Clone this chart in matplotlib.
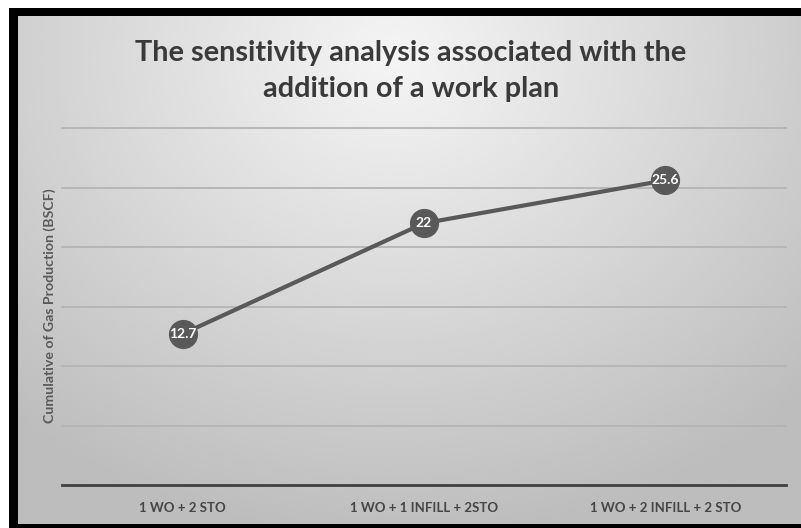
import numpy as np
import matplotlib.pyplot as plt
from matplotlib.patches import Rectangle

categories = ["1 WO + 2 STO", "1 WO + 1 INFILL + 2STO", "1 WO + 2 INFILL + 2 STO"]
production = [12.7, 22, 25.6]
grid_levels = [5, 10, 15, 20, 25, 30]

title = "The sensitivity analysis associated with the\naddition of a work plan"
ylabel = "Cumulative of Gas Production (BSCF)"

W, H = 801, 528
fig = plt.figure(figsize=(W / 100, H / 100), dpi=100)
fig.patch.set_facecolor("white")

# black frame (open on the right)
fig.patches.append(Rectangle((9 / W, 0), 1, (H - 8) / H, transform=fig.transFigure,
                             facecolor="black", edgecolor="none", zorder=0))

# gradient panel
bg = fig.add_axes([18 / W, 4 / H, (W - 18) / W, (H - 16 - 4) / H], zorder=1)
yy, xx = np.mgrid[0:1:300j, 0:1:500j]
r = np.sqrt(((xx - 0.48) * 1.3) ** 2 + ((yy - 0.08) * 1.0) ** 2)
shade = np.clip(0.96 - 0.23 * r, 0.74, 0.96)
bg.imshow(shade, cmap="gray", vmin=0, vmax=1, aspect="auto", interpolation="bicubic")
bg.set_axis_off()

ax = fig.add_axes([62 / W, (H - 485) / H, 724 / W, 357 / H], zorder=2)
ax.patch.set_alpha(0)
x = np.arange(len(categories))

for g in grid_levels:
    ax.axhline(g, color="#b4b4b4", lw=1.3, zorder=1, clip_on=False)

ax.plot(x, production, color="#595959", lw=3, zorder=3, solid_capstyle="round")
ax.plot(x, production, "o", color="#595959", ms=20, zorder=4)
for xi, v in zip(x, production):
    ax.text(xi, v, f"{v:g}", ha="center", va="center", color="white",
            fontsize=10, fontweight="bold", family="Lato", zorder=5)

ax.set_xlim(-0.5, 2.5)
ax.set_ylim(0, 30)
for s in ["top", "right", "left"]:
    ax.spines[s].set_visible(False)
ax.spines["bottom"].set_color("#404040")
ax.spines["bottom"].set_linewidth(2)
ax.set_yticks([])
ax.set_xticks(x)
ax.set_xticklabels(categories, fontsize=9.5, fontweight="bold", color="#454545", family="Lato")
ax.tick_params(axis="x", length=0, pad=12)

fig.text(50 / W, 1 - 306 / H, ylabel, rotation=90, ha="center", va="center",
         fontsize=10.2, fontweight="bold", color="#5a5a5a", family="Lato", zorder=3)
fig.text(411 / W, 1 - 71 / H, title, ha="center", va="center", fontsize=20.8,
         fontweight="bold", color="#3a3a3a", family="Lato", linespacing=1.45, zorder=3)

fig.savefig("out.png", dpi=100)
